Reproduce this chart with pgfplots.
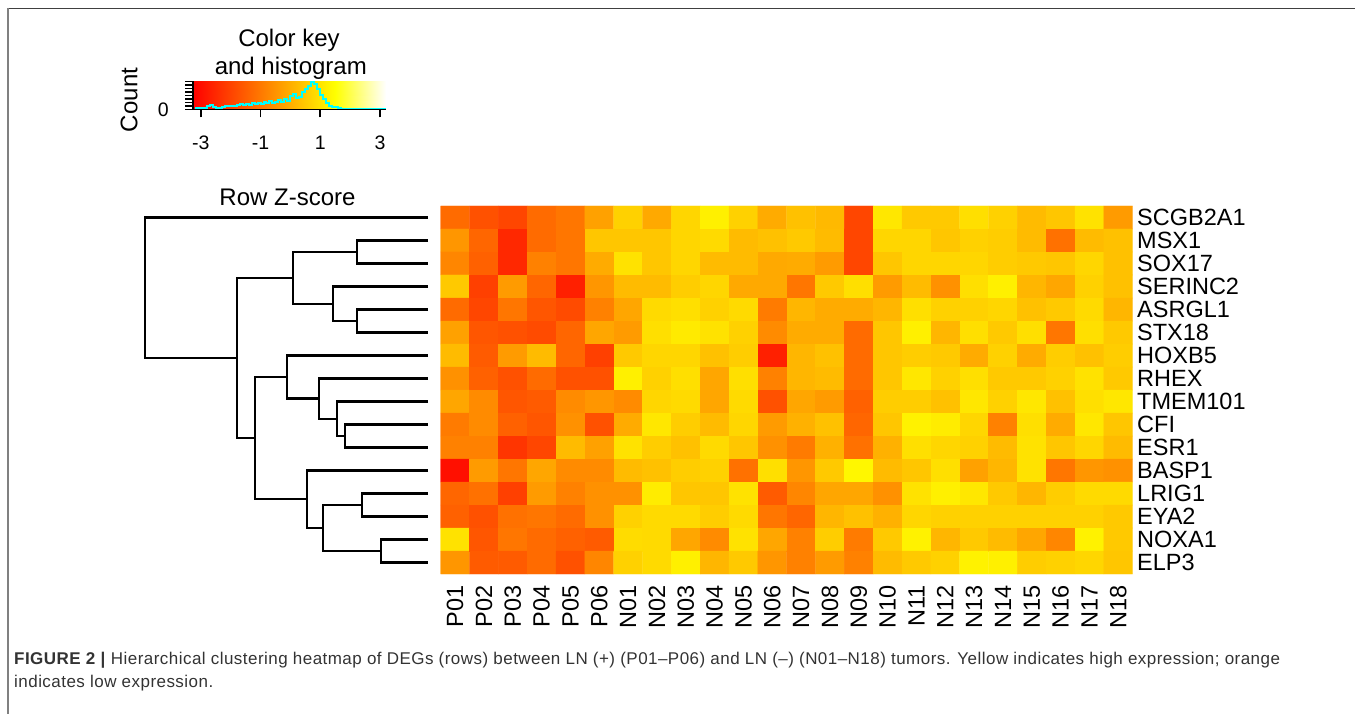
\documentclass[border=0pt]{standalone}
\usepackage{fontspec}
\setmainfont{Liberation Sans}
\usepackage{pgfplots}
\pgfplotsset{compat=1.18}
\usepackage{pgfplotstable}

\definecolor{capgray}{HTML}{333333}
\definecolor{histcyan}{RGB}{0,255,255}

% green level of each cell (0 = red, 255 = yellow), one gene per line, samples P01..N18
\pgfplotstableread[row sep=\\]{
g\\
106\\ 80\\ 70\\ 106\\ 117\\ 160\\ 208\\ 168\\ 213\\ 238\\ 208\\ 170\\ 192\\ 184\\ 70\\ 229\\ 200\\ 200\\ 221\\ 208\\ 186\\ 197\\ 224\\ 154\\
149\\ 101\\ 40\\ 106\\ 117\\ 197\\ 197\\ 197\\ 213\\ 216\\ 186\\ 192\\ 200\\ 186\\ 70\\ 213\\ 213\\ 197\\ 208\\ 204\\ 186\\ 112\\ 186\\ 192\\
133\\ 96\\ 40\\ 128\\ 117\\ 170\\ 224\\ 197\\ 213\\ 186\\ 186\\ 168\\ 170\\ 154\\ 70\\ 197\\ 213\\ 213\\ 213\\ 204\\ 200\\ 197\\ 213\\ 192\\
200\\ 64\\ 154\\ 101\\ 32\\ 149\\ 186\\ 186\\ 204\\ 213\\ 168\\ 168\\ 117\\ 200\\ 221\\ 154\\ 186\\ 144\\ 221\\ 238\\ 181\\ 165\\ 208\\ 192\\
106\\ 70\\ 117\\ 85\\ 74\\ 128\\ 165\\ 216\\ 221\\ 208\\ 216\\ 122\\ 181\\ 170\\ 170\\ 181\\ 221\\ 208\\ 208\\ 213\\ 192\\ 200\\ 216\\ 181\\
160\\ 85\\ 80\\ 74\\ 101\\ 165\\ 154\\ 221\\ 232\\ 224\\ 208\\ 138\\ 170\\ 170\\ 106\\ 197\\ 238\\ 181\\ 221\\ 200\\ 221\\ 117\\ 221\\ 200\\
186\\ 90\\ 154\\ 186\\ 101\\ 64\\ 200\\ 213\\ 213\\ 192\\ 204\\ 32\\ 181\\ 192\\ 106\\ 197\\ 204\\ 200\\ 170\\ 208\\ 170\\ 204\\ 192\\ 204\\
144\\ 96\\ 80\\ 106\\ 80\\ 80\\ 238\\ 208\\ 221\\ 165\\ 221\\ 128\\ 181\\ 186\\ 106\\ 197\\ 229\\ 208\\ 221\\ 200\\ 200\\ 208\\ 224\\ 200\\
165\\ 138\\ 85\\ 90\\ 138\\ 149\\ 138\\ 213\\ 216\\ 165\\ 216\\ 80\\ 165\\ 154\\ 96\\ 204\\ 204\\ 192\\ 229\\ 208\\ 229\\ 192\\ 221\\ 229\\
122\\ 138\\ 96\\ 85\\ 144\\ 80\\ 170\\ 229\\ 204\\ 186\\ 213\\ 154\\ 176\\ 192\\ 101\\ 197\\ 240\\ 234\\ 213\\ 128\\ 221\\ 170\\ 229\\ 197\\
128\\ 128\\ 53\\ 70\\ 186\\ 160\\ 224\\ 204\\ 192\\ 216\\ 197\\ 144\\ 122\\ 176\\ 112\\ 176\\ 221\\ 213\\ 208\\ 186\\ 224\\ 197\\ 213\\ 186\\
16\\ 154\\ 117\\ 165\\ 138\\ 138\\ 186\\ 192\\ 204\\ 208\\ 112\\ 221\\ 149\\ 200\\ 245\\ 186\\ 197\\ 221\\ 160\\ 181\\ 224\\ 117\\ 149\\ 144\\
101\\ 112\\ 64\\ 154\\ 128\\ 144\\ 144\\ 234\\ 197\\ 197\\ 224\\ 90\\ 133\\ 165\\ 165\\ 144\\ 224\\ 238\\ 229\\ 200\\ 181\\ 204\\ 216\\ 216\\
96\\ 80\\ 112\\ 117\\ 106\\ 144\\ 208\\ 216\\ 216\\ 204\\ 216\\ 117\\ 101\\ 181\\ 192\\ 176\\ 213\\ 208\\ 208\\ 208\\ 208\\ 208\\ 208\\ 200\\
224\\ 85\\ 117\\ 106\\ 96\\ 90\\ 218\\ 216\\ 165\\ 138\\ 224\\ 165\\ 128\\ 204\\ 122\\ 200\\ 240\\ 181\\ 200\\ 186\\ 165\\ 133\\ 240\\ 200\\
149\\ 90\\ 90\\ 106\\ 80\\ 133\\ 208\\ 216\\ 238\\ 181\\ 200\\ 149\\ 128\\ 154\\ 128\\ 186\\ 200\\ 208\\ 240\\ 238\\ 204\\ 208\\ 213\\ 197\\
}\heat

\begin{document}
\begin{tikzpicture}
\path[use as bounding box] (0,0) rectangle (1355bp,714bp);

% frame
\draw[black!75, line width=1.5bp] (7.5bp,705.5bp) -- (1355bp,705.5bp);
\draw[black!50, line width=2bp] (7.5bp,706bp) -- (7.5bp,0bp);

% heatmap
\begin{axis}[
  at={(440.7bp,140bp)}, anchor=south west,
  scale only axis, width=692bp, height=368bp,
  xmin=-0.5, xmax=23.5, ymin=-0.5, ymax=15.5, y dir=reverse,
  axis line style={draw=none}, major tick length=0pt,
  xtick={0,...,23},
  xticklabels={P01,P02,P03,P04,P05,P06,N01,N02,N03,N04,N05,N06,N07,N08,N09,N10,N11,N12,N13,N14,N15,N16,N17,N18},
  ytick={0,...,15},
  yticklabels={SCGB2A1,MSX1,SOX17,SERINC2,ASRGL1,STX18,HOXB5,RHEX,TMEM101,CFI,ESR1,BASP1,LRIG1,EYA2,NOXA1,ELP3},
  yticklabel pos=right,
  tick label style={font=\fontsize{23.5bp}{28bp}\selectfont, inner sep=0pt},
  xticklabel style={rotate=90, anchor=east},
  yticklabel style={anchor=west},
  xticklabel shift=11bp, yticklabel shift=4.3bp,
  colormap={heat}{rgb255=(255,0,0) rgb255=(255,255,0)},
  point meta min=0, point meta max=255,
]
\addplot[matrix plot*, mesh/cols=24, point meta=explicit]
  table[x index=0, y index=0, meta index=0,
        x expr={mod(\coordindex,24)}, y expr={floor((\coordindex+0.5)/24)}] {\heat};
\end{axis}

% row dendrogram
\begin{axis}[
  at={(130bp,140bp)}, anchor=south west,
  scale only axis, width=298bp, height=368bp,
  xmin=0, xmax=11.92, x dir=reverse,
  ymin=-0.5, ymax=15.5, y dir=reverse,
  hide axis, clip=false,
  dend/.style={black, solid, no markers, line width=2.4bp},
]
\addplot[dend] coordinates {(0,0) (11.32,0) (11.32,6.109) (7.63,6.109)};
\addplot[dend] coordinates {(5.39,2.625) (7.63,2.625) (7.63,9.594) (6.92,9.594)};
\addplot[dend] coordinates {(2.83,1.5) (5.39,1.5) (5.39,3.75) (3.79,3.75)};
\addplot[dend] coordinates {(0,1) (2.83,1) (2.83,2) (0,2)};
\addplot[dend] coordinates {(0,3) (3.79,3) (3.79,4.5) (2.83,4.5)};
\addplot[dend] coordinates {(0,4) (2.83,4) (2.83,5) (0,5)};
\addplot[dend] coordinates {(5.65,6.9375) (6.92,6.9375) (6.92,12.25) (4.85,12.25)};
\addplot[dend] coordinates {(0,6) (5.65,6) (5.65,7.875) (4.36,7.875)};
\addplot[dend] coordinates {(0,7) (4.36,7) (4.36,8.75) (3.65,8.75)};
\addplot[dend] coordinates {(0,8) (3.65,8) (3.65,9.5) (3.32,9.5)};
\addplot[dend] coordinates {(0,9) (3.32,9) (3.32,10) (0,10)};
\addplot[dend] coordinates {(0,11) (4.85,11) (4.85,13.5) (4.21,13.5)};
\addplot[dend] coordinates {(2.65,12.5) (4.21,12.5) (4.21,14.5) (1.89,14.5)};
\addplot[dend] coordinates {(0,12) (2.65,12) (2.65,13) (0,13)};
\addplot[dend] coordinates {(0,14) (1.89,14) (1.89,15) (0,15)};
\end{axis}

% colour key with histogram
\begin{axis}[
  at={(193bp,604.5bp)}, anchor=south west,
  scale only axis, width=193bp, height=28.5bp,
  xmin=-3.26, xmax=3.2, ymin=0, ymax=82,
  axis x line*=bottom, axis y line*=left,
  axis line style={line width=1.6bp, -},
  axis on top,
  xtick={-3,-1,1,3}, xticklabels={-3,-1,1,3},
  ytick={0,10,...,80}, yticklabels={0,,,,,,,,},
  tick align=outside, major tick length=8bp,
  tick style={line width=1.6bp, black},
  tick label style={font=\fontsize{19.5bp}{23bp}\selectfont, inner sep=0pt},
  xticklabel shift=18bp, yticklabel shift=16bp,
  colormap={key}{rgb255(0cm)=(255,0,0) rgb255(4.76cm)=(255,255,0) rgb255(6.46cm)=(255,255,255)},
  point meta min=-3.26, point meta max=3.2,
]
\addplot[surf, shader=interp, mesh/cols=3, point meta=x]
  coordinates {(-3.26,0) (1.5,0) (3.2,0) (-3.26,82) (1.5,82) (3.2,82)};
\addplot[const plot, color=histcyan, line width=2bp, no markers] coordinates {
(-3.2,4) (-3.1,5) (-3.0,4) (-2.9,5) (-2.8,9) (-2.7,12) (-2.6,8) (-2.5,5)
(-2.4,4) (-2.3,6) (-2.2,9) (-2.1,10) (-2.0,9) (-1.9,11) (-1.8,12) (-1.7,15)
(-1.6,13) (-1.5,16) (-1.4,14) (-1.3,18) (-1.2,16) (-1.1,20) (-1.0,17) (-0.9,22)
(-0.8,19) (-0.7,24) (-0.6,18) (-0.5,21) (-0.4,26) (-0.3,22) (-0.2,30) (-0.1,24)
(0.0,40) (0.1,46) (0.2,32) (0.3,36) (0.4,50) (0.5,58) (0.6,68) (0.7,80)
(0.8,72) (0.9,60) (1.0,42) (1.1,30) (1.2,18) (1.3,10) (1.4,6) (1.5,8)
(1.6,3) (1.7,2) (1.8,1) (2.5,1) (3.2,1)};
\end{axis}

\begin{scope}[every node/.style={font=\fontsize{24bp}{28bp}\selectfont, inner sep=0pt}]
\node[anchor=base] at (289bp,667.5bp) {Color key};
\node[anchor=base] at (290.8bp,639.7bp) {and histogram};
\node[anchor=base] at (287.5bp,508.5bp) {Row Z-score};
\node[rotate=90] at (129bp,614bp) {Count};
\end{scope}

% caption
\begin{scope}[every node/.style={font=\fontsize{17bp}{22bp}\selectfont\addfontfeature{LetterSpace=2.7}, text=capgray, inner sep=0pt, anchor=base west}]
\node at (14bp,49bp) {\textbf{FIGURE 2 |} Hierarchical clustering heatmap of DEGs (rows) between LN (+) (P01–P06) and LN (–) (N01–N18) tumors. Yellow indicates high expression; orange};
\node at (14bp,26.7bp) {indicates low expression.};
\end{scope}
\end{tikzpicture}
\end{document}
